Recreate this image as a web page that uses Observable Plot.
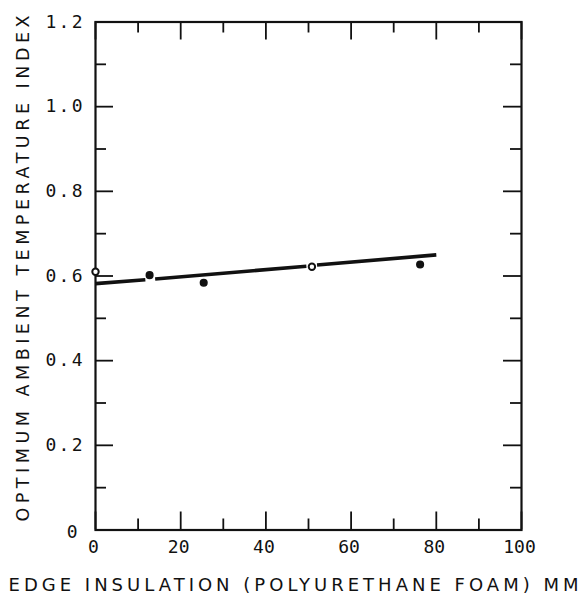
<!DOCTYPE html>
<html><head><meta charset="utf-8">
<script src="https://cdn.jsdelivr.net/npm/d3@7"></script>
<script src="https://cdn.jsdelivr.net/npm/@observablehq/plot@0.6"></script>
<style>html,body{margin:0;padding:0;background:#fff} svg{display:block}</style>
</head><body><div id="chart"></div>
<script>
// ---- data ----
const insulationMM = [0, 12.7, 25.4, 50.8, 76.2];
const tempIndex = [0.61, 0.602, 0.584, 0.622, 0.627];
const openMarker = [true, false, false, true, false];
const fitX = [0, 11.7, 14, 49.5, 52, 80];
const fitY = [0.582, 0.591, 0.593, 0.623, 0.626, 0.650];
const fitSegment = [0, 0, 1, 1, 2, 2];
const xTickValues = [0, 20, 40, 60, 80, 100];
const xTickLabels = ["0", "20", "40", "60", "80", "100"];
const xMinorTicks = [10, 30, 50, 70, 90];
const yTickValues = [0, 0.2, 0.4, 0.6, 0.8, 1.0, 1.2];
const yTickLabels = ["0", "0.2", "0.4", "0.6", "0.8", "1.0", "1.2"];
const yMinorTicks = [0.1, 0.3, 0.5, 0.7, 0.9, 1.1];
const xTitle = "EDGE INSULATION (POLYURETHANE FOAM) MM";
const yTitle = "OPTIMUM AMBIENT TEMPERATURE INDEX";

// ---- layout ----
const W = 582, H = 605, mL = 95, mR = 61, mT = 21.5, mB = 75.5;
const iw = W - mL - mR, ih = H - mT - mB;
const major = 18, minor = 11;
const font = "'DejaVu Sans Mono', 'Liberation Mono', monospace";
const titleFont = "'DejaVu Sans', 'Liberation Sans', sans-serif";
const ink = "#111";

const points = insulationMM.map((x, i) => ({x, y: tempIndex[i], open: openMarker[i]}));
const fit = fitX.map((x, i) => ({x, y: fitY[i], s: fitSegment[i]}));
const yLabels = yTickValues.map((v, i) => ({v, t: yTickLabels[i]}));

const chart = Plot.plot({
  width: W, height: H,
  marginLeft: mL, marginRight: mR, marginTop: mT, marginBottom: mB,
  style: {background: "#fff", color: ink},
  x: {domain: [0, 100], axis: null},
  y: {domain: [0, 1.2], axis: null},
  marks: [
    // ticks (inward)
    Plot.tickX(xTickValues, {x: d => d, insetTop: ih - major, stroke: ink, strokeWidth: 1.8}),
    Plot.tickX(xTickValues, {x: d => d, insetBottom: ih - major, stroke: ink, strokeWidth: 1.8}),
    Plot.tickX(xMinorTicks, {x: d => d, insetTop: ih - minor, stroke: ink, strokeWidth: 1.8}),
    Plot.tickX(xMinorTicks, {x: d => d, insetBottom: ih - minor, stroke: ink, strokeWidth: 1.8}),
    Plot.tickY(yTickValues, {y: d => d, insetRight: iw - major, stroke: ink, strokeWidth: 1.8}),
    Plot.tickY(yTickValues, {y: d => d, insetLeft: iw - major, stroke: ink, strokeWidth: 1.8}),
    Plot.tickY(yMinorTicks, {y: d => d, insetRight: iw - minor, stroke: ink, strokeWidth: 1.8}),
    Plot.tickY(yMinorTicks, {y: d => d, insetLeft: iw - minor, stroke: ink, strokeWidth: 1.8}),
    Plot.frame({stroke: ink, strokeWidth: 2.2}),
    // fitted line
    Plot.line(fit, {x: "x", y: "y", z: "s", stroke: ink, strokeWidth: 3.6, strokeLinecap: "butt"}),
    // data points
    Plot.dot(points.filter(d => !d.open), {x: "x", y: "y", r: 3.3, fill: ink, stroke: ink}),
    Plot.dot(points.filter(d => d.open), {x: "x", y: "y", r: 3.2, fill: "#fff", stroke: ink, strokeWidth: 2}),
    // tick labels
    Plot.text(xTickValues, {x: d => d, text: (d, i) => xTickLabels[i], frameAnchor: "bottom", dy: 22.5, dx: -2,
      fontSize: 18, fontFamily: font, fill: ink}),
    Plot.text(yLabels.filter(d => d.v !== 0), {y: "v", text: "t", frameAnchor: "left", dx: -13,
      textAnchor: "end", fontSize: 18, fontFamily: font, fill: ink}),
    Plot.text(yLabels.filter(d => d.v === 0), {y: "v", text: "t", frameAnchor: "left", dx: -18, dy: 2,
      textAnchor: "end", fontSize: 18, fontFamily: font, fill: ink}),
    // axis titles
    Plot.text([xTitle], {text: d => d, frameAnchor: "bottom", dx: -15, dy: 61, fontSize: 18, fontFamily: titleFont, fill: ink}),
    Plot.text([yTitle], {text: d => d, frameAnchor: "left", rotate: -90, textAnchor: "start", dx: -72, dy: 245.5,
      fontSize: 17.5, fontFamily: titleFont, fill: ink})
  ]
});

// spread letters of the typewriter-style labels
d3.select(chart).selectAll("text").each(function () {
  const t = this.textContent;
  if (t === xTitle) { this.setAttribute("textLength", 570); this.setAttribute("lengthAdjust", "spacing"); }
  else if (t === yTitle) { this.setAttribute("textLength", 506); this.setAttribute("lengthAdjust", "spacing"); }
  else if (yTickLabels.includes(t) && t.length > 1 && this.getAttribute("text-anchor") !== "middle") {
    this.setAttribute("textLength", 37); this.setAttribute("lengthAdjust", "spacing");
  }
});
document.getElementById("chart").append(chart);
</script>
</body></html>
